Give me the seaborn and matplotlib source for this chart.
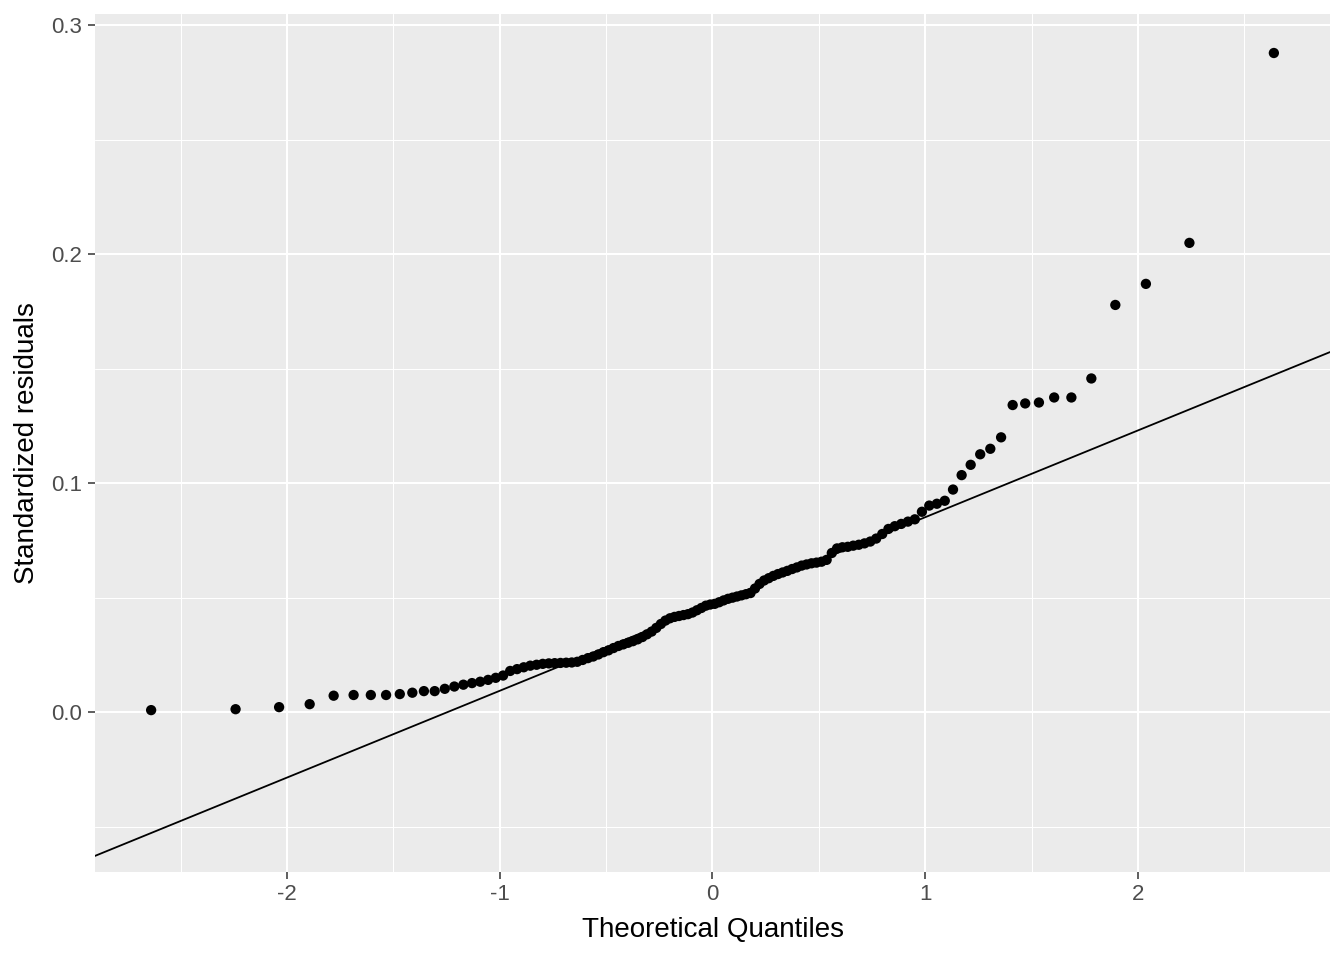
import numpy as np
import pandas as pd
import seaborn as sns
import matplotlib
matplotlib.use("Agg")
import matplotlib.pyplot as plt
from statistics import NormalDist

# Sorted standardized residuals (n = 120)
residuals = [
    0.0009, 0.0013, 0.0022, 0.0035, 0.0072, 0.0075, 0.0075, 0.0075, 0.0079, 0.0085,
    0.0092, 0.0092, 0.0102, 0.0112, 0.0120, 0.0127, 0.0133, 0.0141, 0.0150, 0.0160,
    0.0180, 0.0188, 0.0196, 0.0203, 0.0207, 0.0211, 0.0213, 0.0214, 0.0215, 0.0216,
    0.0217, 0.0220, 0.0228, 0.0236, 0.0243, 0.0252, 0.0262, 0.0270, 0.0280, 0.0289,
    0.0296, 0.0303, 0.0310, 0.0318, 0.0328, 0.0340, 0.0352, 0.0368, 0.0385, 0.0400,
    0.0410, 0.0416, 0.0420, 0.0424, 0.0428, 0.0435, 0.0445, 0.0455, 0.0465, 0.0470,
    0.0473, 0.0480, 0.0488, 0.0495, 0.0500, 0.0505, 0.0510, 0.0515, 0.0520, 0.0540,
    0.0560, 0.0575, 0.0585, 0.0595, 0.0603, 0.0610, 0.0617, 0.0625, 0.0632, 0.0640,
    0.0645, 0.0650, 0.0653, 0.0657, 0.0665, 0.0695, 0.0715, 0.0720, 0.0722, 0.0727,
    0.0731, 0.0737, 0.0745, 0.0758, 0.0778, 0.0800, 0.0812, 0.0822, 0.0832, 0.0842,
    0.0875, 0.0902, 0.0910, 0.0923, 0.0972, 0.1035, 0.1080, 0.1126, 0.1150, 0.1200,
    0.1341, 0.1348, 0.1352, 0.1374, 0.1374, 0.1457, 0.1778, 0.1870, 0.2049, 0.2878,
]
x_ticks = [-2, -1, 0, 1, 2]
y_ticks = [0.0, 0.1, 0.2, 0.3]
x_minor = [-2.5, -1.5, -0.5, 0.5, 1.5, 2.5]
y_minor = [-0.05, 0.05, 0.15, 0.25]
x_title = "Theoretical Quantiles"
y_title = "Standardized residuals"

# QQ statistic (as ggplot2 stat_qq / stat_qq_line)
sample = np.sort(np.array(residuals))
n = len(sample)
nd = NormalDist()
probs = (np.arange(1, n + 1) - 0.5) / n
theo = np.array([nd.inv_cdf(p) for p in probs])
df = pd.DataFrame({"theoretical": theo, "sample": sample})

q_y = np.quantile(sample, [0.25, 0.75])
q_x = np.array([nd.inv_cdf(0.25), nd.inv_cdf(0.75)])
slope = (q_y[1] - q_y[0]) / (q_x[1] - q_x[0])
intercept = q_y[0] - slope * q_x[0]

sns.set_theme(style="darkgrid")
plt.rcParams["font.family"] = ["Liberation Sans", "DejaVu Sans"]

fig = plt.figure(figsize=(13.44, 9.6), dpi=100)
ax = fig.add_axes([95 / 1344, 1 - 872 / 960, (1330 - 95) / 1344, (872 - 14) / 960])
ax.set_facecolor("#EBEBEB")

sns.scatterplot(data=df, x="theoretical", y="sample", ax=ax, color="black",
                s=55, edgecolor="none", linewidth=0, zorder=3)
ax.axline((0, intercept), slope=slope, color="black", lw=1.3, zorder=2)

# limits with ggplot-like 5% expansion
xmin, xmax = theo.min(), theo.max()
line_ys = [intercept + slope * xmin, intercept + slope * xmax]
ymin = min(sample.min(), *line_ys)
ymax = max(sample.max(), *line_ys)
dx = (xmax - xmin) * 0.05
dy = (ymax - ymin) * 0.05
ax.set_xlim(xmin - dx, xmax + dx)
ax.set_ylim(ymin - dy, ymax + dy)

ax.set_xticks(x_ticks)
ax.set_xticklabels([str(t) for t in x_ticks])
ax.set_yticks(y_ticks)
ax.set_yticklabels([f"{t:.1f}" for t in y_ticks])
ax.set_xticks(x_minor, minor=True)
ax.set_yticks(y_minor, minor=True)

ax.grid(which="major", color="white", linewidth=1.5)
ax.grid(which="minor", color="white", linewidth=0.75)
ax.set_axisbelow(True)
for sp in ax.spines.values():
    sp.set_visible(False)

ax.tick_params(axis="both", which="major", length=5, width=1.1, color="#333333",
               labelsize=16, labelcolor="#4D4D4D", pad=4)
ax.tick_params(axis="both", which="minor", length=0)
ax.tick_params(axis="x", bottom=True)
ax.tick_params(axis="y", left=True)

ax.set_xlabel(x_title, fontsize=20, color="black", labelpad=8)
ax.set_ylabel(y_title, fontsize=20, color="black", labelpad=8)

fig.savefig("out.png", dpi=100, facecolor="white")
